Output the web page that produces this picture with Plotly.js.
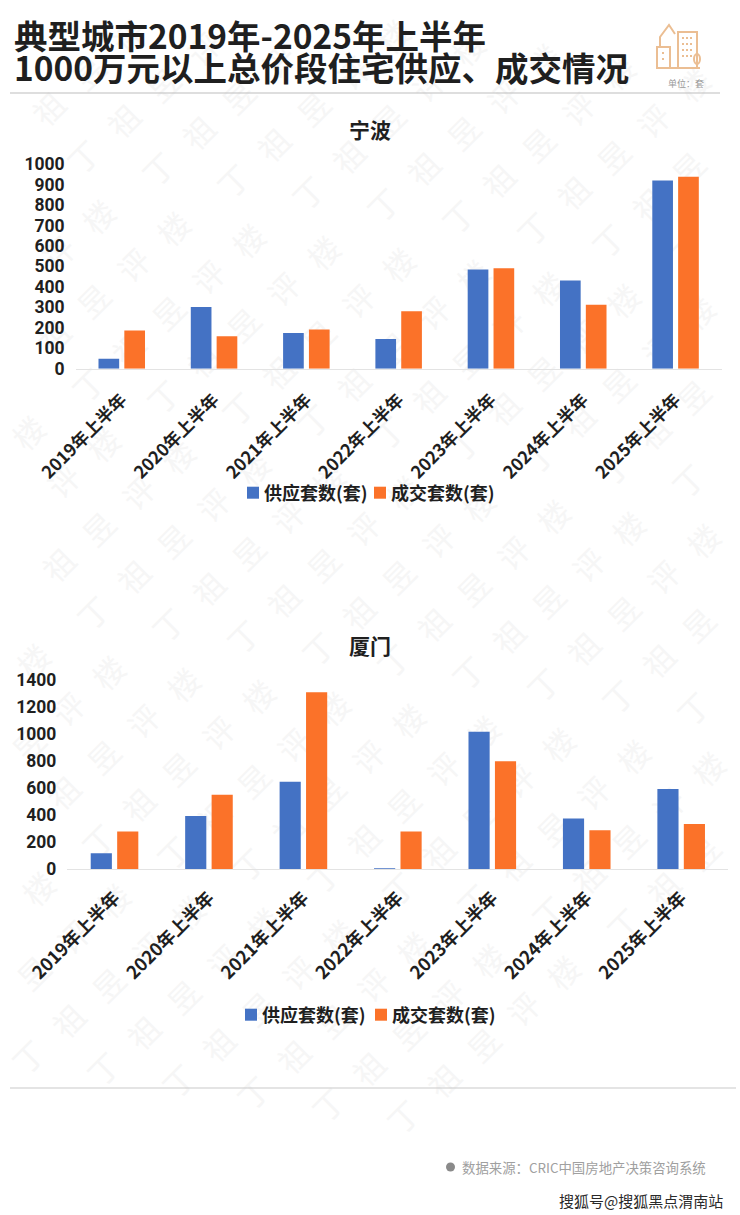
<!DOCTYPE html>
<html lang="zh">
<head>
<meta charset="utf-8">
<script src="https://cdn.plot.ly/plotly-3.0.1.min.js"></script>
<style>
html,body{margin:0;padding:0;background:#fff;width:740px;height:1215px;overflow:hidden}
#mark{position:absolute;left:0;top:0;width:740px;height:1215px;overflow:hidden}
#mark span{position:absolute;font:400 31px/1 "Noto Sans CJK SC";color:#f6f6f6;transform:translate(-50%,-50%) rotate(-45deg);white-space:nowrap}
#chart{position:absolute;left:0;top:0;width:740px;height:1215px}
</style>
</head>
<body>
<div id="mark"></div>
<div id="chart"></div>
<script>
const categories = ['2019年上半年','2020年上半年','2021年上半年','2022年上半年','2023年上半年','2024年上半年','2025年上半年'];
const seriesSupply = '供应套数(套)';
const seriesDeal = '成交套数(套)';
const ningboSupply = [49,302,174,145,485,431,919];
const ningboDeal = [187,158,192,281,491,312,938];
const xiamenSupply = [118,394,648,8,1018,375,594];
const xiamenDeal = [279,552,1309,279,799,288,335];
const ningboTicks = [0,100,200,300,400,500,600,700,800,900,1000];
const xiamenTicks = [0,200,400,600,800,1000,1200,1400];
const titleLine1 = '典型城市2019年-2025年上半年';
const titleLine2 = '1000万元以上总价段住宅供应、成交情况';
const watermarkChars = ['丁','祖','昱','评','楼'];

const W = 740, H = 1215;
const BLUE = '#4472C4', ORANGE = '#FB7229', INK = '#1f1f1f';
const FONT = '"Noto Sans CJK SC","Noto Sans",sans-serif';
const px = x => x / W;
const py = y => 1 - y / H;

// faint background watermark
const mark = document.getElementById('mark');
for (let i = -6; i < 16; i++) {
  for (let j = -2; j < 9; j++) {
    const ox = 158 + i * 75 + j * 220 - 440;
    const oy = 172 + i * 12 - j * 192 + 380;
    watermarkChars.forEach((c, k) => {
      const x = ox + k * 40, y = oy - k * 36;
      if (x < 28 || x > W - 28 || y < 28 || y > H - 28) return;
      const s = document.createElement('span');
      s.textContent = c;
      s.style.left = x + 'px';
      s.style.top = y + 'px';
      mark.appendChild(s);
    });
  }
}

function bars(name, y, color, xa, ya, legend) {
  return {type:'bar', name, x:categories, y, xaxis:xa, yaxis:ya, legend,
          marker:{color, line:{width:0}}, hoverinfo:'x+y'};
}
const data = [
  bars(seriesSupply, ningboSupply, BLUE, 'x', 'y', 'legend'),
  bars(seriesDeal, ningboDeal, ORANGE, 'x', 'y', 'legend'),
  bars(seriesSupply, xiamenSupply, BLUE, 'x2', 'y2', 'legend2'),
  bars(seriesDeal, xiamenDeal, ORANGE, 'x2', 'y2', 'legend2')
];

const xBase = {type:'category', tickangle:-45, showline:true, linecolor:'#e3e3e3', linewidth:1,
  showgrid:false, ticks:'', zeroline:false};
const yBase = {showline:false, showgrid:false, zeroline:false, ticks:'', ticklabelstandoff:10,
  tickmode:'array', tickfont:{family:'Roboto,"Noto Sans",sans-serif', size:17.5, color:INK, weight:700}};
const legendBase = {orientation:'h', yanchor:'middle', xanchor:'left', bgcolor:'rgba(0,0,0,0)',
  entrywidthmode:'pixels', font:{family:FONT, size:18, color:INK, weight:700}, tracegroupgap:0};

const text = (t, x, y, size, color, weight, anchor, yanchor) => ({
  text:t, xref:'paper', yref:'paper', x:px(x), y:py(y), showarrow:false, align:'left',
  xanchor:anchor || 'left', yanchor:yanchor || 'middle',
  font:{family:FONT, size, color, weight:weight || 400}
});
const line = (x0, y0, x1, y1, color, width) => ({
  type:'line', xref:'paper', yref:'paper', x0:px(x0), y0:py(y0), x1:px(x1), y1:py(y1),
  line:{color, width:width || 1}
});
const path = (pts, color, width, closed) => ({
  type:'path', xref:'paper', yref:'paper',
  path:pts.map((p, i) => (i ? 'L' : 'M') + px(p[0]) + ',' + py(p[1])).join(' ') + (closed ? ' Z' : ''),
  line:{color, width:width || 2}
});
const ICON = '#EBBE93';
const dots = [];
[[683,38],[687,38],[691,38],[683,44],[687,44],[691,44],[683,50],[687,50],[691,50],[683,56],[687,56],[691,56],[663,53],[663,59]]
  .forEach(p => dots.push({type:'rect', xref:'paper', yref:'paper',
    x0:px(p[0]-1), x1:px(p[0]+1), y0:py(p[1]+1), y1:py(p[1]-1), fillcolor:ICON, line:{width:0}}));

const layout = {
  width:W, height:H, margin:{l:0,r:0,t:0,b:0}, autosize:false,
  paper_bgcolor:'rgba(0,0,0,0)', plot_bgcolor:'rgba(0,0,0,0)',
  font:{family:FONT}, barmode:'group', bargap:0.44, bargroupgap:0.2,
  xaxis:Object.assign({}, xBase, {domain:[px(75.6), px(721.7)], anchor:'y', ticklabelstandoff:13,
    tickfont:{family:FONT, size:17.5, color:INK, weight:700}}),
  yaxis:Object.assign({}, yBase, {domain:[py(368.7), py(164)], range:[0,1000], tickvals:ningboTicks, anchor:'x'}),
  xaxis2:Object.assign({}, xBase, {domain:[px(67.3), px(728.4)], anchor:'y2', ticklabelstandoff:10,
    tickfont:{family:FONT, size:18, color:INK, weight:700}}),
  yaxis2:Object.assign({}, yBase, {domain:[py(869.3), py(680)], range:[0,1400], tickvals:xiamenTicks, anchor:'x2'}),
  legend:Object.assign({}, legendBase, {x:px(224), y:py(493), entrywidth:82}),
  legend2:Object.assign({}, legendBase, {x:px(222), y:py(1015), entrywidth:85}),
  annotations:[
    text(titleLine1 + '<br>' + titleLine2, 12, 8, 33.5, INK, 700, 'left', 'top'),
    text('单位：套', 686, 84, 9, '#999999', 400, 'center'),
    text('宁波', 370, 129, 21, INK, 700, 'center'),
    text('厦门', 370, 645, 21, INK, 700, 'center'),
    text('数据来源：CRIC中国房地产决策咨询系统', 460, 1167, 13.4, '#a0a0a0'),
    text('搜狐号@搜狐黑点渭南站', 725, 1200, 15, '#2a2a2a', 400, 'right')
  ],
  shapes:[
    line(10, 93, 720, 93, '#bdbdbd'),
    line(10, 1088, 736, 1088, '#c9c9c9'),
    {type:'circle', xref:'paper', yref:'paper', x0:px(446), x1:px(455), y0:py(1171.5), y1:py(1162.5),
      fillcolor:'#8a8a8a', line:{width:0}},
    line(656, 68, 700, 68, ICON, 2),
    path([[657,68],[657,47],[670,47],[670,68]], ICON),
    path([[660,47],[660,37],[669,25],[675,34]], ICON),
    path([[678,68],[678,32],[697,32],[697,68]], ICON),
    {type:'circle', xref:'paper', yref:'paper', x0:px(694), x1:px(700), y0:py(64), y1:py(54),
      line:{color:ICON, width:2}},
    ...dots
  ]
};

Plotly.newPlot('chart', data, layout, {displayModeBar:false, staticPlot:true}).then(() => {
  // pull the legend swatches closer to their labels, as in the source
  document.querySelectorAll('.legendsymbols').forEach(n => n.setAttribute('transform', 'translate(9,0)'));
  // entries are narrower than their labels so the pitch matches: do not clip the last label
  document.querySelectorAll('.scrollbox').forEach(n => n.removeAttribute('clip-path'));
  // the headline's two lines sit tighter than Plotly's default line height
  document.querySelectorAll('.annotation-text tspan.line').forEach(n => {
    if (parseFloat(n.getAttribute('dy')) > 0) n.setAttribute('dy', '32px');
  });
});
</script>
</body>
</html>
